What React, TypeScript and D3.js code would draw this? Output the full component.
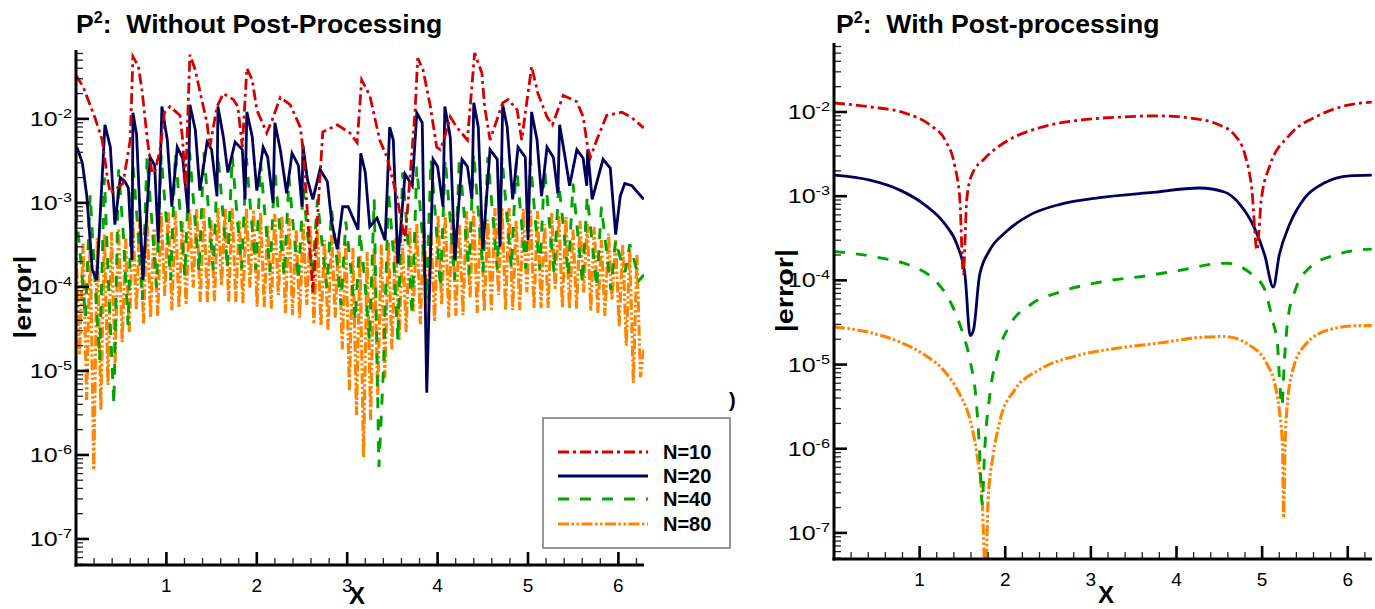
import * as d3 from 'd3';

const TWO_PI = 2 * Math.PI;
const Y_DOMAIN: [number, number] = [4.9e-8, 0.066];
const FONT = '"Liberation Sans", Arial, Helvetica, sans-serif';

const seriesNames = ['N=10', 'N=20', 'N=40', 'N=80'];
const seriesColors = ['#d40000', '#00005a', '#00a300', '#ff8400'];
const seriesDash = ['11 4 3 4', '', '11 11', '11 2.5 2.5 2.5 2.5 2.5'];
const seriesWidth = [2.8, 2.8, 2.9, 3.1];

// ---- left panel: without post-processing ([x, |error|]) ----
const rawN10: [number, number][] = [
  [0.0, 3.3e-2], [0.08, 2.4e-2], [0.21, 1.03e-2], [0.29, 5.6e-3], [0.35, 1.9e-3], [0.38, 1.3e-3],
  [0.52, 1.7e-3], [0.6, 5.6e-3], [0.63, 5.5e-2], [0.69, 4.2e-2], [0.73, 2.2e-2], [0.79, 5.6e-3],
  [0.84, 2.3e-3], [0.87, 2.3e-3], [0.93, 4.3e-3], [0.98, 1.2e-2], [1.04, 1.4e-2], [1.15, 1.1e-2],
  [1.18, 5.6e-3], [1.21, 1.5e-3], [1.26, 5.8e-2], [1.32, 3.8e-2], [1.39, 1.7e-2], [1.45, 9.0e-3],
  [1.48, 4.6e-3], [1.56, 1.4e-2], [1.63, 2.0e-2], [1.74, 1.7e-2], [1.79, 1.4e-2], [1.84, 4.6e-3],
  [1.89, 4.0e-2], [1.95, 2.9e-2], [2.0, 1.28e-2], [2.11, 6.8e-3], [2.17, 9.7e-3], [2.26, 1.8e-2],
  [2.37, 1.47e-2], [2.48, 8.0e-3], [2.51, 4.6e-3], [2.62, 8.6e-5], [2.73, 7.0e-3], [2.89, 8.5e-3],
  [3.03, 6.8e-3], [3.11, 5.2e-3], [3.16, 2.9e-2], [3.25, 1.9e-2], [3.36, 5.6e-3], [3.44, 3.5e-3],
  [3.55, 1.2e-3], [3.64, 3.5e-4], [3.75, 1.18e-2], [3.78, 5.3e-2], [3.84, 3.8e-2], [3.92, 1.4e-2],
  [3.99, 4.6e-3], [4.03, 4.3e-3], [4.08, 6.1e-3], [4.14, 1.06e-2], [4.21, 8.0e-3], [4.33, 5.6e-3],
  [4.41, 6.1e-2], [4.49, 3.5e-2], [4.52, 1.4e-2], [4.58, 5.6e-3], [4.72, 1.55e-2], [4.78, 1.7e-2],
  [4.88, 1.28e-2], [4.93, 5.6e-3], [5.04, 4.2e-2], [5.11, 2.0e-2], [5.21, 1.06e-2], [5.27, 8.5e-3],
  [5.39, 1.9e-2], [5.54, 1.6e-2], [5.61, 1.06e-2], [5.66, 4.6e-3], [5.69, 3.5e-3], [5.76, 5.6e-3],
  [5.87, 1.1e-2], [6.04, 1.2e-2], [6.15, 1.03e-2], [6.28, 7.8e-3],
];

const rawN20: [number, number][] = [
  [0.01, 4.6e-3], [0.07, 3.0e-3], [0.12, 1.2e-3], [0.18, 1.6e-4], [0.23, 1.2e-4], [0.32, 8.5e-3],
  [0.38, 4.6e-3], [0.43, 5.5e-4], [0.49, 2.0e-3], [0.54, 1.8e-3], [0.58, 1.5e-3], [0.62, 2.1e-4],
  [0.63, 1.18e-2], [0.67, 6.5e-3], [0.74, 1.2e-4], [0.82, 3.5e-3], [0.87, 2.8e-3], [0.91, 3.4e-4],
  [0.95, 1.4e-2], [1.01, 5.6e-3], [1.06, 9e-4], [1.12, 4.6e-3], [1.18, 3.4e-3], [1.24, 7.6e-4],
  [1.26, 1.47e-2], [1.32, 7.4e-3], [1.37, 1.4e-3], [1.45, 5.3e-3], [1.5, 4.3e-3], [1.56, 1.2e-3],
  [1.57, 1.4e-2], [1.63, 6.1e-3], [1.68, 2.3e-3], [1.76, 5.3e-3], [1.84, 4.3e-3], [1.87, 1.1e-3],
  [1.89, 1.21e-2], [1.95, 6.1e-3], [2.0, 1.4e-3], [2.07, 4.6e-3], [2.12, 3.5e-3], [2.18, 1.0e-3],
  [2.2, 9.0e-3], [2.26, 4.3e-3], [2.33, 1.3e-3], [2.39, 3.9e-3], [2.46, 2.8e-3], [2.5, 9e-4],
  [2.51, 4.9e-3], [2.56, 1.9e-3], [2.62, 1.1e-3], [2.7, 2.5e-3], [2.78, 1.8e-3], [2.83, 5.8e-4],
  [2.89, 2.8e-4], [2.95, 9e-4], [3.01, 9e-4], [3.12, 4.8e-4], [3.15, 3.9e-3], [3.2, 2.3e-3],
  [3.25, 5.2e-4], [3.33, 6.6e-4], [3.42, 3.6e-4], [3.47, 8.0e-3], [3.51, 5.6e-3], [3.56, 1.9e-4],
  [3.64, 2.2e-3], [3.72, 1.6e-3], [3.77, 1.18e-2], [3.83, 9.0e-3], [3.88, 5.5e-6], [3.95, 3.3e-3],
  [4.0, 2.7e-3], [4.06, 9e-4], [4.08, 1.4e-2], [4.14, 6.1e-3], [4.19, 2.1e-4], [4.27, 3.3e-3],
  [4.33, 2.7e-3], [4.38, 1.1e-3], [4.4, 1.55e-2], [4.45, 8.0e-3], [4.5, 2.8e-4], [4.58, 4.3e-3],
  [4.66, 3.3e-3], [4.69, 3.0e-4], [4.72, 1.47e-2], [4.77, 8.0e-3], [4.83, 1.1e-3], [4.89, 4.6e-3],
  [4.97, 3.5e-3], [5.0, 3.6e-4], [5.04, 1.21e-2], [5.1, 5.6e-3], [5.15, 1.2e-3], [5.21, 4.6e-3],
  [5.28, 3.5e-3], [5.33, 1.3e-3], [5.35, 8.5e-3], [5.41, 3.5e-3], [5.46, 1.6e-3], [5.54, 4.3e-3],
  [5.61, 3.4e-3], [5.65, 1.6e-3], [5.66, 4.3e-3], [5.71, 1.1e-3], [5.83, 3.3e-3], [5.91, 2.6e-3],
  [5.97, 4.2e-4], [6.02, 1.2e-3], [6.07, 1.7e-3], [6.15, 1.6e-3], [6.28, 1.1e-3],
];

// N=40 and N=80 are sampled on an even grid over [0, 2π]
const rawN40: number[] = [
  8.3e-4, 2.1e-4, 4.3e-5, 1.25e-3, 1.2e-4, 1.35e-5, 2.0e-3, 7e-5, 4.0e-6,
  2.5e-3, 4.2e-4, 3.5e-5, 3.0e-3, 5.5e-4, 7e-5, 3.4e-3, 6.3e-4, 9.8e-5,
  3.7e-3, 7.2e-4, 1.2e-4, 3.9e-3, 7.8e-4, 1.35e-4, 4.0e-3, 7.8e-4, 1.5e-4,
  4.0e-3, 8.3e-4, 1.6e-4, 3.8e-3, 7.8e-4, 1.65e-4, 3.6e-3, 7.4e-4, 1.65e-4,
  3.4e-3, 7.0e-4, 1.6e-4, 3.0e-3, 6.3e-4, 1.5e-4, 2.5e-3, 5.3e-4, 1.35e-4,
  2.0e-3, 4.5e-4, 1.2e-4, 1.5e-3, 3.8e-4, 1.4e-4, 1.1e-3, 3.2e-4, 9.8e-5,
  8.3e-4, 2.4e-4, 6.1e-5, 6.0e-4, 1.8e-4, 4.0e-5, 4.5e-4, 1.2e-4, 2.3e-5,
  1.1e-3, 7.2e-7, 1.2e-5, 1.4e-3, 2.8e-4, 2.3e-5, 2.3e-3, 4.5e-4, 4.6e-5,
  2.7e-3, 5.5e-4, 7e-5, 3.3e-3, 6.3e-4, 9.8e-5, 3.3e-3, 7.0e-4, 1.2e-4,
  3.5e-3, 7.4e-4, 1.4e-4, 3.9e-3, 7.8e-4, 1.5e-4, 3.5e-3, 7.8e-4, 1.6e-4,
  3.5e-3, 7.4e-4, 1.65e-4, 3.0e-3, 7.0e-4, 1.65e-4, 3.3e-3, 6.6e-4, 1.6e-4,
  2.5e-3, 6.0e-4, 1.45e-4, 1.7e-3, 5.0e-4, 1.35e-4, 1.7e-3, 4.3e-4, 1.1e-4,
  1.2e-3, 3.6e-4, 9.8e-5, 9.0e-4, 2.9e-4, 9.2e-5, 3.6e-4, 2.2e-4, 1.5e-4,
  3.2e-4, 2.0e-4, 1.2e-4, 1.4e-4,
];

const rawN80: number[] = [
  3.2e-4, 1.55e-5, 3.3e-4, 4.5e-6, 3.6e-4, 6.6e-7, 3.8e-4, 3.4e-6, 4.2e-4, 6.8e-6,
  4.5e-4, 1.2e-5, 5.0e-4, 2.2e-5, 3.8e-4, 2.9e-5, 6.1e-4, 5.3e-5, 6.6e-4, 3.6e-5,
  7.0e-4, 4.3e-5, 5.0e-4, 4.5e-5, 7.6e-4, 7.8e-5, 7.8e-4, 5.3e-5, 8.0e-4, 5.6e-5,
  6.0e-4, 6.1e-5, 8.3e-4, 9.8e-5, 8.5e-4, 6.6e-5, 8.7e-4, 6.6e-5, 6.3e-4, 6.8e-5,
  8.7e-4, 1.05e-4, 8.7e-4, 6.6e-5, 8.7e-4, 6.6e-5, 6.3e-4, 6.4e-5, 8.5e-4, 9.8e-5,
  8.3e-4, 5.8e-5, 7.8e-4, 5.7e-5, 5.5e-4, 5.5e-5, 7.4e-4, 8.0e-5, 7.0e-4, 4.9e-5,
  6.6e-4, 4.6e-5, 4.8e-4, 4.3e-5, 5.8e-4, 6.1e-5, 5.3e-4, 3.6e-5, 4.9e-4, 3.4e-5,
  3.6e-4, 3.1e-5, 4.2e-4, 4.3e-5, 3.8e-4, 1.8e-5, 3.4e-4, 5.9e-6, 2.9e-4, 3.0e-6,
  2.4e-4, 9.4e-7, 2.6e-4, 2.6e-6, 2.9e-4, 5.2e-6, 3.2e-4, 8.2e-6, 3.4e-4, 1.8e-5,
  3.8e-4, 2.3e-5, 3.2e-4, 2.9e-5, 5.0e-4, 5.1e-5, 5.6e-4, 3.6e-5, 6.1e-4, 3.8e-5,
  4.5e-4, 3.9e-5, 7.0e-4, 6.1e-5, 7.4e-4, 4.3e-5, 7.6e-4, 4.5e-5, 5.5e-4, 4.6e-5,
  8.0e-4, 7.5e-5, 8.3e-4, 4.9e-5, 8.5e-4, 5.1e-5, 6.3e-4, 5.1e-5, 8.7e-4, 8.0e-5,
  8.7e-4, 5.2e-5, 8.7e-4, 5.3e-5, 6.3e-4, 5.3e-5, 8.5e-4, 8.6e-5, 8.3e-4, 5.5e-5,
  8.0e-4, 5.6e-5, 5.6e-4, 5.6e-5, 7.6e-4, 9.2e-5, 7.2e-4, 5.6e-5, 6.8e-4, 5.6e-5,
  4.8e-4, 5.5e-5, 6.1e-4, 8.6e-5, 5.6e-4, 5.2e-5, 5.2e-4, 4.9e-5, 3.6e-4, 4.5e-5,
  4.3e-4, 7.0e-5, 3.6e-4, 3.3e-5, 3.2e-4, 2.0e-5, 2.8e-4, 7.2e-6, 2.4e-4, 8.4e-6,
  1.8e-5,
];

// ---- right panel: with post-processing ([x, |error|]) ----
const ppN10: [number, number][] = [
  [0, 1.28e-2], [0.42, 1.15e-2], [0.83, 9.7e-3], [1.12, 7.0e-3], [1.3, 4.6e-3], [1.41, 2.3e-3],
  [1.47, 9e-4], [1.51, 1.2e-4], [1.55, 9e-4], [1.61, 1.8e-3], [1.76, 2.8e-3], [2.05, 4.7e-3],
  [2.4, 6.5e-3], [2.87, 8.0e-3], [3.34, 8.7e-3], [3.8, 9.0e-3], [4.15, 8.5e-3], [4.5, 7.0e-3],
  [4.68, 5.3e-3], [4.8, 3.1e-3], [4.88, 1.2e-3], [4.94, 2.3e-4], [4.99, 9e-4], [5.09, 2.3e-3],
  [5.32, 5.3e-3], [5.67, 9.2e-3], [5.96, 1.18e-2], [6.28, 1.31e-2],
];
const ppN20: [number, number][] = [
  [0, 1.78e-3], [0.42, 1.55e-3], [0.77, 1.18e-3], [1.06, 7.9e-4], [1.3, 4.6e-4], [1.44, 2.6e-4],
  [1.53, 1.15e-4], [1.59, 2.2e-5], [1.63, 2.6e-5], [1.7, 1.15e-4], [1.82, 2.3e-4], [2.0, 3.7e-4],
  [2.29, 6.0e-4], [2.64, 8e-4], [3.1, 9.6e-4], [3.69, 1.1e-3], [4.27, 1.25e-3], [4.56, 1.12e-3],
  [4.74, 8e-4], [4.91, 4.2e-4], [5.03, 2e-4], [5.13, 8.3e-5], [5.2, 2e-4], [5.32, 4.6e-4],
  [5.5, 9.6e-4], [5.73, 1.44e-3], [6.02, 1.74e-3], [6.28, 1.78e-3],
];
const ppN40: [number, number][] = [
  [0, 2.2e-4], [0.54, 1.85e-4], [0.89, 1.5e-4], [1.18, 1e-4], [1.35, 5.8e-5], [1.49, 2.6e-5],
  [1.59, 1.1e-5], [1.66, 3.8e-6], [1.7, 9.7e-7], [1.73, 2.2e-7], [1.76, 9.7e-7], [1.82, 4.4e-6],
  [1.91, 1.3e-5], [2.05, 2.9e-5], [2.29, 5.1e-5], [2.64, 7.3e-5], [3.1, 9.5e-5], [3.69, 1.15e-4],
  [4.1, 1.35e-4], [4.4, 1.55e-4], [4.6, 1.6e-4], [4.75, 1.45e-4], [4.87, 1.2e-4], [5.03, 7.8e-5],
  [5.12, 3.4e-5], [5.18, 1.7e-5], [5.2, 7.6e-6], [5.23, 3.2e-6], [5.26, 1.1e-5], [5.3, 3.4e-5],
  [5.39, 7.8e-5], [5.55, 1.4e-4], [5.85, 2e-4], [6.14, 2.3e-4], [6.28, 2.35e-4],
];
const ppN80: [number, number][] = [
  [0, 2.8e-5], [0.42, 2.4e-5], [0.77, 1.85e-5], [1.06, 1.3e-5], [1.3, 8.1e-6], [1.47, 4.4e-6],
  [1.59, 2.2e-6], [1.67, 8.5e-7], [1.73, 2.5e-7], [1.77, 3e-8], [1.8, 2.5e-7], [1.86, 8.5e-7],
  [1.94, 2.2e-6], [2.11, 5e-6], [2.4, 8.7e-6], [2.87, 1.3e-5], [3.34, 1.58e-5], [3.8, 1.8e-5],
  [4.27, 2.1e-5], [4.56, 2.15e-5], [4.85, 1.7e-5], [5.06, 1e-5], [5.15, 5.8e-6], [5.2, 2.9e-6],
  [5.24, 9.8e-7], [5.25, 1.5e-7], [5.27, 1.3e-6], [5.3, 3.8e-6], [5.36, 8.7e-6], [5.5, 1.7e-5],
  [5.79, 2.6e-5], [6.14, 2.9e-5], [6.28, 2.9e-5],
];

const evenGrid = (vals: number[]): [number, number][] =>
  vals.map((v, i) => [(i * TWO_PI) / (vals.length - 1), v]);

type PanelProps = {
  id: string;
  left: number;
  top: number;
  width: number;
  height: number;
  title: string;
  titleX: number;
  data: [number, number][][];
  smooth?: boolean;
  labelX: number;
  xLabelDx: number;
  xLabelY: number;
  tickLabelDy: number;
};

function Panel({ id, left, top, width, height, title, titleX, data, smooth, labelX, xLabelDx, xLabelY, tickLabelDy }: PanelProps) {
  const x = d3.scaleLinear().domain([0, TWO_PI]).range([left, left + width]);
  const y = d3.scaleLog().domain(Y_DOMAIN).range([top + height, top]);
  const bottom = top + height;

  const line = d3
    .line<[number, number]>()
    .x(d => x(d[0]))
    .y(d => y(d[1]))
    .curve(smooth ? d3.curveMonotoneX : d3.curveLinear);

  const majorY: number[] = [];
  const minorY: number[] = [];
  for (let e = -8; e <= -2; e++) {
    for (let k = 1; k <= 9; k++) {
      const v = k * Math.pow(10, e);
      if (v < Y_DOMAIN[0] || v > Y_DOMAIN[1]) continue;
      (k === 1 ? majorY : minorY).push(v);
    }
  }
  const majorX = [1, 2, 3, 4, 5, 6];
  const minorX = d3.range(1, 32).map(i => i * 0.2).filter(v => Math.abs(v - Math.round(v)) > 0.01);

  // draw order: finest mesh underneath
  const order = [3, 2, 1, 0];

  return (
    <g>
      <defs>
        <clipPath id={id}>
          <rect x={left} y={top} width={width} height={height} />
        </clipPath>
      </defs>
      <g clipPath={`url(#${id})`} fill="none">
        {order.map(i => (
          <path
            key={i}
            d={line(data[i]) ?? ''}
            stroke={seriesColors[i]}
            strokeWidth={seriesWidth[i]}
            strokeDasharray={seriesDash[i] || undefined}
          />
        ))}
      </g>

      {/* title */}
      <text x={titleX} y={33} fontFamily={FONT} fontWeight="bold" fontSize={26.6} style={{ whiteSpace: 'pre' }}>
        P<tspan fontSize={16} dy={-10}>2</tspan>
        <tspan dy={10}>{':  ' + title}</tspan>
      </text>

      {/* y axis */}
      {minorY.map(v => (
        <line key={'my' + v} x1={left} x2={left + 7} y1={y(v)} y2={y(v)} stroke="#222" strokeWidth={1.3} />
      ))}
      {majorY.map(v => (
        <line key={'My' + v} x1={left} x2={left + 13} y1={y(v)} y2={y(v)} stroke="#000" strokeWidth={2.6} />
      ))}
      {majorY.map(v => (
        <g key={'ly' + v} transform={`translate(${left - 4},${y(v) + 7}) scale(1.25,1)`}>
          <text textAnchor="end" fontFamily={FONT} fontSize={20}>
            10<tspan fontSize={13} dy={-8}>{String(Math.round(Math.log10(v)))}</tspan>
          </text>
        </g>
      ))}
      <line x1={left} x2={left} y1={top} y2={bottom + 1.5} stroke="#000" strokeWidth={3} />

      {/* x axis */}
      {minorX.map(v => (
        <line key={'mx' + v} x1={x(v)} x2={x(v)} y1={bottom} y2={bottom - 7} stroke="#222" strokeWidth={1.3} />
      ))}
      {majorX.map(v => (
        <line key={'Mx' + v} x1={x(v)} x2={x(v)} y1={bottom} y2={bottom - 13} stroke="#000" strokeWidth={2.6} />
      ))}
      {majorX.map(v => (
        <text key={'lx' + v} x={x(v)} y={bottom + tickLabelDy} textAnchor="middle" fontFamily={FONT} fontSize={19}>
          {v}
        </text>
      ))}
      <line x1={left - 1.5} x2={left + width} y1={bottom} y2={bottom} stroke="#000" strokeWidth={3} />

      {/* axis titles */}
      <text x={x(Math.PI) + xLabelDx} y={xLabelY} textAnchor="middle" fontFamily={FONT} fontWeight="bold" fontSize={24}>
        X
      </text>
      <g transform={`translate(${labelX},${top + height * 0.48}) rotate(-90) scale(1.2,1)`}>
        <text textAnchor="middle" fontFamily={FONT} fontWeight="bold" fontSize={24}>
          |error|
        </text>
      </g>
    </g>
  );
}

function Legend() {
  const rows = [452, 476, 499, 524];
  return (
    <g>
      <rect x={543} y={418} width={187} height={130} fill="#fff" stroke="#777" strokeWidth={1.5} />
      {seriesNames.map((name, i) => (
        <g key={name}>
          <line
            x1={558}
            x2={648}
            y1={rows[i]}
            y2={rows[i]}
            stroke={seriesColors[i]}
            strokeWidth={2.8}
            strokeDasharray={seriesDash[i] || undefined}
          />
          <text x={663} y={rows[i] + 7} fontFamily={FONT} fontWeight="bold" fontSize={20}>
            {name}
          </text>
        </g>
      ))}
    </g>
  );
}

export default function App() {
  const leftData = [rawN10, rawN20, evenGrid(rawN40), evenGrid(rawN80)];
  const rightData = [ppN10, ppN20, ppN40, ppN80];
  return (
    <svg
      width={1375}
      height={609}
      style={{ position: 'absolute', left: 0, top: 0, background: '#fff' }}
    >
      <rect width={1375} height={609} fill="#fff" />
      <Panel
        id="clip-left"
        left={76}
        top={50}
        width={568}
        height={515}
        title="Without Post-Processing"
        titleX={76}
        data={leftData}
        labelX={31}
        xLabelDx={-3}
        xLabelY={604}
        tickLabelDy={27}
      />
      <Panel
        id="clip-right"
        left={834}
        top={43}
        width={538}
        height={516}
        title="With Post-processing"
        titleX={836}
        data={rightData}
        smooth
        labelX={793}
        xLabelDx={3}
        xLabelY={603}
        tickLabelDy={27}
      />
      <Legend />
      <text x={729} y={407} fontFamily={FONT} fontWeight="bold" fontSize={20}>)</text>
    </svg>
  );
}
